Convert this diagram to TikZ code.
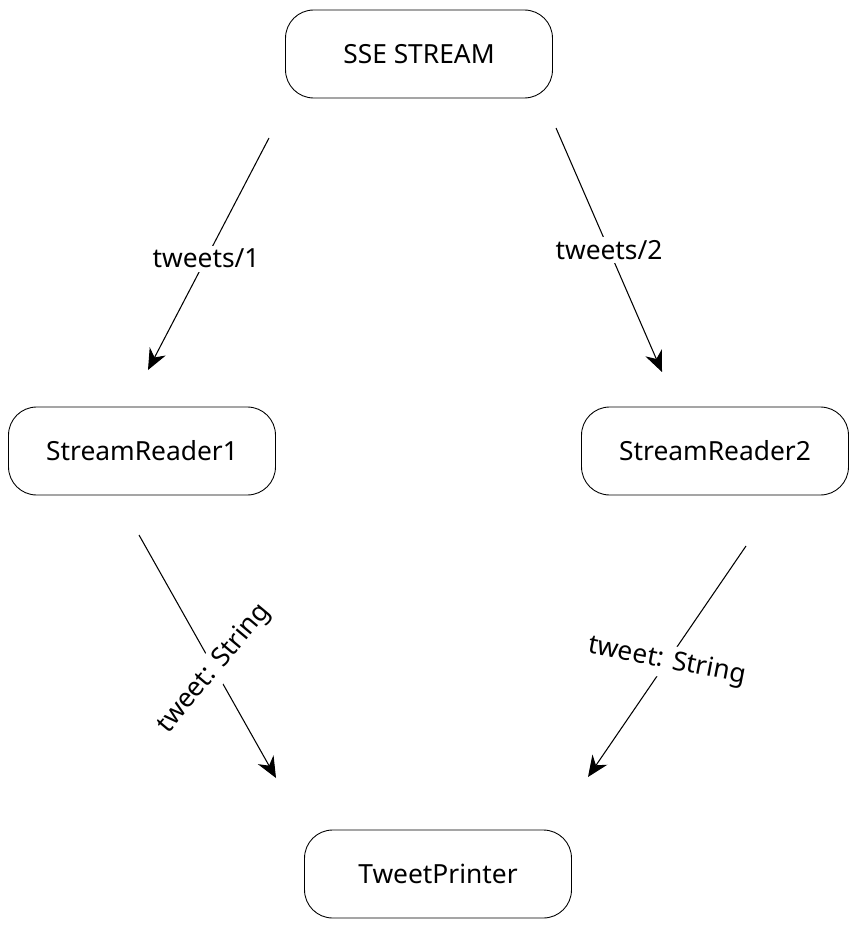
\documentclass[tikz,border=0pt]{standalone}
\usepackage{fontspec}
\setmainfont{Noto Sans}
\usetikzlibrary{arrows.meta}
\begin{document}
\begin{tikzpicture}[x=0.02cm, y=-0.02cm,
    block/.style={draw, rounded corners=16pt, line width=0.5pt, minimum width=5.34cm, minimum height=1.76cm, font=\fontsize{15}{18}\selectfont},
    flow/.style={-{Stealth[length=0.42cm, width=0.36cm]}, line width=0.6pt},
    tag/.style={fill=white, inner sep=2pt, font=\fontsize{15}{18}\selectfont}]
    \useasboundingbox (0,0) rectangle (860,929);
    % boxes
    \node[block] (sse) at (419,54) {SSE STREAM};
    \node[block] (reader1) at (142,451) {StreamReader1};
    \node[block] (reader2) at (715,451) {StreamReader2};
    \node[block] (printer) at (438,874) {TweetPrinter};
    % free arrow ends
    \coordinate (s1) at (269,138);
    \coordinate (e1) at (148,370);
    \coordinate (s2) at (556,128);
    \coordinate (e2) at (662,372);
    \coordinate (s3) at (139,535);
    \coordinate (e3) at (276,778);
    \coordinate (s4) at (746,546);
    \coordinate (e4) at (588,777);
    % arrows
    \draw[flow] (s1) -- (e1) node[tag, pos=0.52] {tweets/1};
    \draw[flow] (s2) -- (e2) node[tag, pos=0.5] {tweets/2};
    \draw[flow] (s3) -- (e3) node[tag, pos=0.55, rotate=50] {tweet: String};
    \draw[flow] (s4) -- (e4) node[tag, pos=0.5, rotate=-11] {tweet: String};
\end{tikzpicture}
\end{document}
